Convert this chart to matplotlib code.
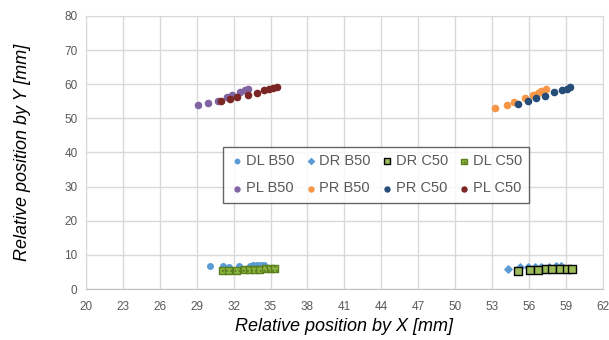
import matplotlib.pyplot as plt

plt.rcParams['font.family'] = ['Liberation Sans', 'DejaVu Sans']

# distal left / right, B50 and C50
dl_b50_x = [30.1, 31.1, 31.6, 32.4, 33.3, 33.6, 33.9, 34.2, 34.5]
dl_b50_y = [6.6, 6.6, 6.5, 6.6, 6.8, 6.9, 6.9, 7.0, 7.0]
dr_b50_x = [54.3, 55.3, 55.9, 56.5, 57.0, 57.6, 58.2, 58.6]
dr_b50_y = [5.9, 6.4, 6.5, 6.5, 6.4, 6.5, 6.6, 6.7]
dr_c50_x = [55.1, 56.1, 56.7, 57.4, 57.9, 58.5, 59.1, 59.5]
dr_c50_y = [5.3, 5.7, 5.7, 5.8, 5.9, 6.0, 6.0, 6.0]
dl_c50_x = [31.1, 31.6, 32.2, 32.9, 33.3, 33.7, 34.1, 34.6, 35.0, 35.3]
dl_c50_y = [5.5, 5.4, 5.5, 5.6, 5.7, 5.8, 5.8, 5.9, 5.9, 5.9]

# proximal left / right
pl_b50_x = [29.1, 29.9, 30.7, 31.5, 31.9, 32.5, 32.9, 33.2]
pl_b50_y = [54.0, 54.5, 55.1, 56.3, 56.9, 57.8, 58.4, 58.6]
pr_b50_x = [53.2, 54.2, 54.8, 55.7, 56.3, 56.7, 57.0, 57.4]
pr_b50_y = [53.1, 54.0, 54.8, 56.0, 56.9, 57.5, 58.0, 58.6]
pr_c50_x = [55.1, 55.9, 56.6, 57.3, 58.0, 58.7, 59.1, 59.3]
pr_c50_y = [54.3, 55.1, 56.0, 56.6, 57.8, 58.4, 58.7, 59.2]
pl_c50_x = [31.0, 31.7, 32.3, 33.2, 33.9, 34.5, 34.9, 35.2, 35.5]
pl_c50_y = [55.1, 55.7, 56.3, 56.9, 57.5, 58.4, 58.7, 58.9, 59.2]

x_ticks = list(range(20, 63, 3))
y_ticks = list(range(0, 81, 10))

fig = plt.figure(figsize=(6.09, 3.40), dpi=100)
ax = fig.add_axes([0.141, 0.15, 0.849, 0.803])

ax.scatter(dl_b50_x, dl_b50_y, s=16, color='#5B9BD5', marker='o', label='DL B50', zorder=3)
ax.scatter(dr_b50_x, dr_b50_y, s=14, color='#5B9BD5', marker='D', label='DR B50', zorder=3)
ax.scatter(dr_c50_x, dr_c50_y, s=26, facecolor='#9BBB59', edgecolor='black', linewidth=1.0,
           marker='s', label='DR C50', zorder=4)
ax.scatter(dl_c50_x, dl_c50_y, s=26, facecolor='#8DB33F', edgecolor='#5A7F1F', linewidth=1.0,
           marker='s', hatch='....', label='DL C50', zorder=4)
ax.scatter(pl_b50_x, pl_b50_y, s=20, color='#8064A2', marker='o', label='PL B50', zorder=3)
ax.scatter(pr_b50_x, pr_b50_y, s=20, color='#F79646', marker='o', label='PR B50', zorder=3)
ax.scatter(pr_c50_x, pr_c50_y, s=20, color='#254D78', marker='o', label='PR C50', zorder=3)
ax.scatter(pl_c50_x, pl_c50_y, s=20, color='#7B2525', marker='o', label='PL C50', zorder=3)

ax.set_xlim(20, 62)
ax.set_ylim(0, 80)
ax.set_xticks(x_ticks)
ax.set_yticks(y_ticks)
ax.grid(True, color='#D9D9D9', linewidth=1)
ax.set_axisbelow(True)
ax.tick_params(length=0, labelsize=8.5, labelcolor='#595959')
ax.tick_params(axis='x', pad=9)
ax.tick_params(axis='y', pad=6)
for side in ['top', 'right', 'left']:
    ax.spines[side].set_color('#D9D9D9')
ax.spines['bottom'].set_color('#BFBFBF')

ax.set_xlabel('Relative position by X [mm]', fontsize=13, style='italic', labelpad=3)
ax.set_ylabel('Relative position by Y [mm]', fontsize=13, style='italic', labelpad=24)

# legend fills by column, so interleave to get the two rows right
handles, labels = ax.get_legend_handles_labels()
order = [0, 4, 1, 5, 2, 6, 3, 7]
leg = ax.legend([handles[i] for i in order], [labels[i] for i in order],
                ncol=4, loc='center', bbox_to_anchor=(0.561, 0.418), fontsize=10.5,
                frameon=True, fancybox=False, edgecolor='#404040', handletextpad=0.1,
                handlelength=1.0, columnspacing=0.6, borderpad=0.5, labelspacing=0.9,
                markerscale=0.8)
leg.get_frame().set_linewidth(1.0)
for t in leg.get_texts():
    t.set_color('#595959')

plt.savefig('out.png', dpi=100)
